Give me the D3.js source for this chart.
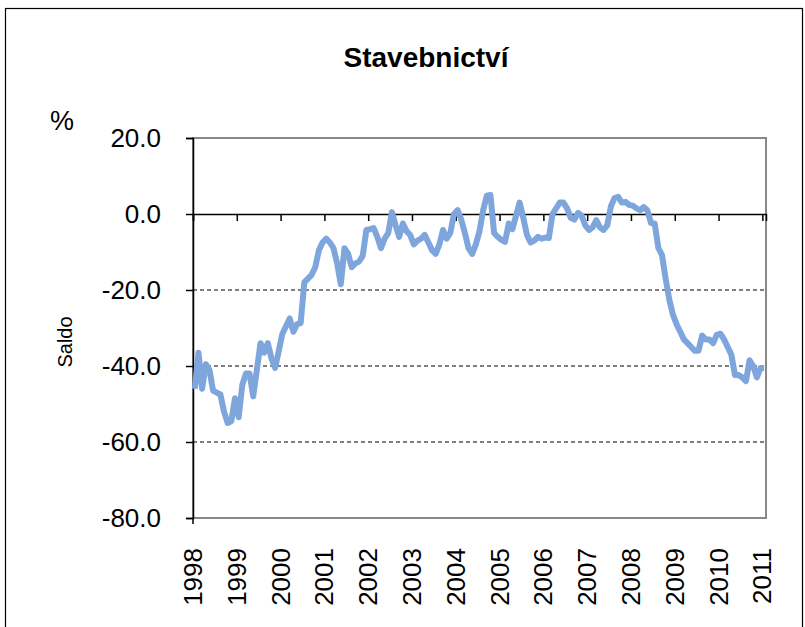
<!DOCTYPE html>
<html>
<head>
<meta charset="utf-8">
<script src="https://cdn.jsdelivr.net/npm/d3@7"></script>
<style>
body{margin:0;background:#fff;}
svg{display:block;font-family:"Liberation Sans",Arial,sans-serif;}
</style>
</head>
<body>
<svg id="chart" width="805" height="627"></svg>
<script>
// monthly saldo, Jan 1998 .. Jan 2011
var saldo = [
  -46,-36.5,-46,-39.5,-41,-46.5,-47,-47.5,-52,-55,-54.5,-48.5,
  -53.5,-45,-42,-42,-48,-41,-34,-36.5,-34,-38,-40.5,-36,
  -31.5,-29.5,-27.5,-31,-29,-28.7,-18,-17,-16,-14,-9.5,-7.5,
  -6.5,-7.5,-9,-13,-18.5,-9,-10.5,-14,-13,-12.5,-11,-4.2,
  -4,-3.7,-6,-9,-6.5,-5,0.5,-3,-6,-2.5,-4.5,-5.5,
  -8,-7,-6.5,-5.5,-7.5,-9.5,-10.5,-8,-4.2,-6.5,-5,0,
  1,-1.5,-5,-9,-10.5,-8,-4.5,1,4.8,5,-5,-6,
  -6.8,-7.3,-2.5,-4,-0.5,3,-1,-5.5,-7.5,-7,-6,-6.5,
  -6.2,-6.3,0,1.5,3,3,1.5,-1,-1.5,0.3,-0.5,-3,
  -4.2,-3.5,-1.6,-3.5,-4.2,-3,2,4.2,4.5,3,3.2,2.4,
  2.2,1.5,1,1.8,1,-2.4,-2.5,-8.9,-10.8,-17,-22.5,-26.5,
  -29,-31,-33,-34,-35,-36,-36,-32,-33,-33,-34,-31.8,
  -31.5,-33,-35,-37,-42.4,-42.4,-43,-44,-38.5,-40,-43,-40.5,
  -40.5
];
var years = ["1998","1999","2000","2001","2002","2003","2004","2005","2006","2007","2008","2009","2010","2011"];
var yTicks = [20,0,-20,-40,-60,-80];
var gridDashed = [-20,-40,-60];

var svg = d3.select("#chart");
var margin = {top:138, left:193, right:39, bottom:109},
    width = 805 - margin.left - margin.right,
    height = 627 - margin.top - margin.bottom;

var x = d3.scaleLinear().domain([0, saldo.length]).range([0, width]);
var y = d3.scaleLinear().domain([-80, 20]).range([height, 0]);

// outer frame
svg.append("rect").attr("x",5.5).attr("y",8.5).attr("width",797).attr("height",640)
  .attr("fill","none").attr("stroke","#000").attr("stroke-width",1.2);

svg.append("text").attr("x",426).attr("y",67).attr("text-anchor","middle")
  .style("font-size","28px").style("font-weight","bold").text("Stavebnictví");

svg.append("text").attr("x",62).attr("y",130).attr("text-anchor","middle")
  .style("font-size","27px").text("%");

svg.append("text").attr("transform","translate(72,342) rotate(-90)").attr("text-anchor","middle")
  .style("font-size","20px").text("Saldo");

var g = svg.append("g").attr("transform","translate("+margin.left+","+margin.top+")");

// plot border
g.append("rect").attr("x",0).attr("y",0).attr("width",width).attr("height",height)
  .attr("fill","none").attr("stroke","#888").attr("stroke-width",2);

g.selectAll("line.grid").data(gridDashed).enter().append("line").attr("class","grid")
  .attr("x1",0).attr("x2",width).attr("y1",function(d){return y(d)}).attr("y2",function(d){return y(d)})
  .attr("stroke","#000").attr("stroke-width",1).attr("stroke-dasharray","4,3");

// y axis
var yAxis = d3.axisLeft(y).tickValues(yTicks).tickSize(7).tickPadding(25)
  .tickFormat(function(d){return d.toFixed(1)});
var ya = g.append("g").call(yAxis);
ya.select(".domain").attr("stroke","#000").attr("stroke-width",1.5);
ya.selectAll(".tick line").attr("stroke","#000").attr("stroke-width",1.5);
ya.selectAll("text").style("font-size","26px").style("font-family","'Liberation Sans',Arial,sans-serif").attr("fill","#000");

// category axis on the zero line
var tickIdx = years.map(function(d,i){return i*12});
var xAxis = d3.axisBottom(x).tickValues(tickIdx).tickSize(7).tickFormat("");
var xa = g.append("g").attr("transform","translate(0,"+y(0)+")").call(xAxis);
xa.select(".domain").attr("stroke","#000").attr("stroke-width",1.5);
xa.selectAll(".tick line").attr("stroke","#000").attr("stroke-width",1.5);

// year labels at the bottom
g.selectAll("text.year").data(years).enter().append("text").attr("class","year")
  .attr("transform",function(d,i){return "translate("+x(i*12)+","+(height+30)+") rotate(-90)"})
  .attr("dy","0.35em").attr("text-anchor","end")
  .style("font-size","26px").text(function(d){return d});

// left tick at bottom corner
g.append("line").attr("x1",0).attr("x2",0).attr("y1",height).attr("y2",height+6)
  .attr("stroke","#000").attr("stroke-width",1.5);

var line = d3.line().x(function(d,i){return x(i+0.5)}).y(function(d){return y(d)});
g.append("path").datum(saldo).attr("d",line).attr("fill","none")
  .attr("stroke","#7ea6dd").attr("stroke-width",6).attr("stroke-linejoin","round");
</script>
</body>
</html>
